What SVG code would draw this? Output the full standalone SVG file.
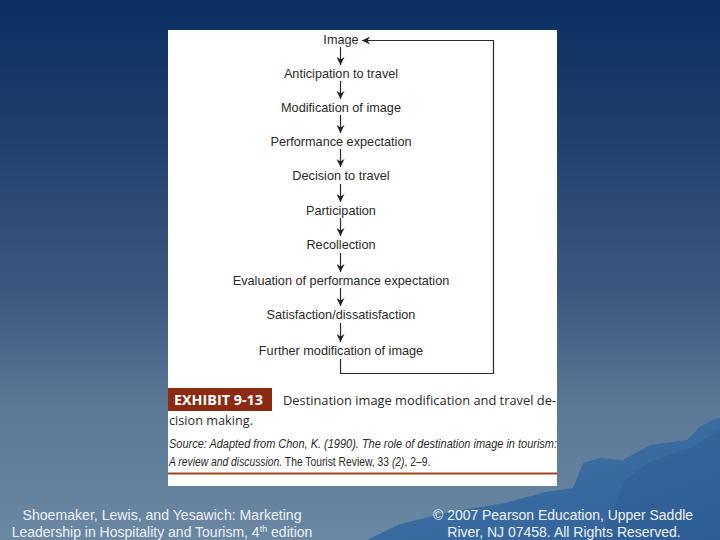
<svg xmlns="http://www.w3.org/2000/svg" width="720" height="540" viewBox="0 0 720 540">
<defs>
<linearGradient id="bg" x1="0" y1="0" x2="0" y2="1">
<stop offset="0" stop-color="#0a2f63"/>
<stop offset="0.2" stop-color="#1c3b69"/>
<stop offset="0.55" stop-color="#3c5a80"/>
<stop offset="0.75" stop-color="#5b7896"/>
<stop offset="1" stop-color="#6a87a3"/>
</linearGradient>
<linearGradient id="mt" x1="0" y1="0" x2="1" y2="1">
<stop offset="0" stop-color="#4576aa"/>
<stop offset="1" stop-color="#2f6098"/>
</linearGradient>
<marker id="ah" viewBox="0 0 10 10" refX="10" refY="5" markerWidth="8" markerHeight="8" markerUnits="userSpaceOnUse" orient="auto">
<path d="M0,0 L10,5 L0,10 L3,5 Z" fill="#222"/>
</marker>
<style>
.lbl{font-family:"Liberation Sans",Arial,sans-serif;font-size:12.7px;fill:#2a2a2a;text-anchor:middle}
.ln{stroke:#2a2a2a;stroke-width:1.2;fill:none}
.foot{font-family:"Liberation Sans",Arial,sans-serif;font-size:14px;fill:#eef2f7;text-anchor:middle}
.cap{font-family:"Open Sans","Liberation Sans",sans-serif;font-size:13px;fill:#2a2a2a}
.src{font-family:"Liberation Sans",sans-serif;font-size:12px;fill:#2a2a2a}
.it{font-style:italic}
</style>
</defs>
<rect width="720" height="540" fill="url(#bg)"/>
<path d="M367,540 L400,524 L450,512 L505,503 L545,492 L573,488 L583,463 L600,458 L623,460 L650,445 L687,440 L700,427 L713,420 L720,418 L720,540 Z" fill="url(#mt)"/>
<path d="M600,540 L625,480 L650,462 L690,448 L720,430 L720,540 Z" fill="#2c5a8f" opacity="0.35"/>
<rect x="168" y="30" width="389" height="456" fill="#ffffff"/>
<g id="n1"><text class="lbl" x="341" y="44">Image</text></g>
<g id="n2"><text class="lbl" x="341" y="78">Anticipation to travel</text></g>
<g id="n3"><text class="lbl" x="341" y="112">Modification of image</text></g>
<g id="n4"><text class="lbl" x="341" y="146">Performance expectation</text></g>
<g id="n5"><text class="lbl" x="341" y="180">Decision to travel</text></g>
<g id="n6"><text class="lbl" x="341" y="215">Participation</text></g>
<g id="n7"><text class="lbl" x="341" y="249">Recollection</text></g>
<g id="n8"><text class="lbl" x="341" y="285">Evaluation of performance expectation</text></g>
<g id="n9"><text class="lbl" x="341" y="319">Satisfaction/dissatisfaction</text></g>
<g id="n10"><text class="lbl" x="341" y="355">Further modification of image</text></g>
<g id="connectors">
<line class="ln" x1="340.5" y1="47" x2="340.5" y2="65" marker-end="url(#ah)"/>
<line class="ln" x1="340.5" y1="81" x2="340.5" y2="99" marker-end="url(#ah)"/>
<line class="ln" x1="340.5" y1="115" x2="340.5" y2="133" marker-end="url(#ah)"/>
<line class="ln" x1="340.5" y1="149" x2="340.5" y2="167" marker-end="url(#ah)"/>
<line class="ln" x1="340.5" y1="184" x2="340.5" y2="202" marker-end="url(#ah)"/>
<line class="ln" x1="340.5" y1="218" x2="340.5" y2="236" marker-end="url(#ah)"/>
<line class="ln" x1="340.5" y1="253" x2="340.5" y2="272" marker-end="url(#ah)"/>
<line class="ln" x1="340.5" y1="288" x2="340.5" y2="306" marker-end="url(#ah)"/>
<line class="ln" x1="340.5" y1="323" x2="340.5" y2="342" marker-end="url(#ah)"/>
<path class="ln" d="M340.5,359 V373.5 H493.5 V40.5 H362" marker-end="url(#ah)"/>
</g>
<g id="exhibit">
<rect x="168" y="388" width="104" height="23" fill="#8c2b12"/>
<text x="174" y="405" font-family="'Open Sans','Liberation Sans',sans-serif" font-weight="bold" font-size="14" fill="#ffffff" textLength="89" lengthAdjust="spacingAndGlyphs">EXHIBIT 9-13</text>
<text class="cap" x="283" y="405" textLength="273" lengthAdjust="spacingAndGlyphs">Destination image modification and travel de-</text>
<text class="cap" x="169" y="425" textLength="84" lengthAdjust="spacingAndGlyphs">cision making.</text>
<text class="src it" x="169" y="448" textLength="388" lengthAdjust="spacingAndGlyphs">Source: Adapted from Chon, K. (1990). The role of destination image in tourism:</text>
<text class="src" transform="translate(169,466) scale(0.86,1)" x="0" y="0"><tspan class="it">A review and discussion.</tspan> The Tourist Review, 33 <tspan class="it">(2)</tspan>, 2–9.</text>
<line x1="168" y1="473.5" x2="557" y2="473.5" stroke="#a5421e" stroke-width="2"/>
</g>
<g id="footer">
<text class="foot" x="162" y="520" textLength="279" lengthAdjust="spacingAndGlyphs">Shoemaker, Lewis, and Yesawich: Marketing</text>
<text class="foot" x="162" y="537">Leadership in Hospitality and Tourism, 4<tspan font-size="9" dy="-5">th</tspan><tspan dy="5"> edition</tspan></text>
<text class="foot" x="563" y="520" textLength="260" lengthAdjust="spacingAndGlyphs">© 2007 Pearson Education, Upper Saddle</text>
<text class="foot" x="564" y="537">River, NJ 07458. All Rights Reserved.</text>
</g>
</svg>
